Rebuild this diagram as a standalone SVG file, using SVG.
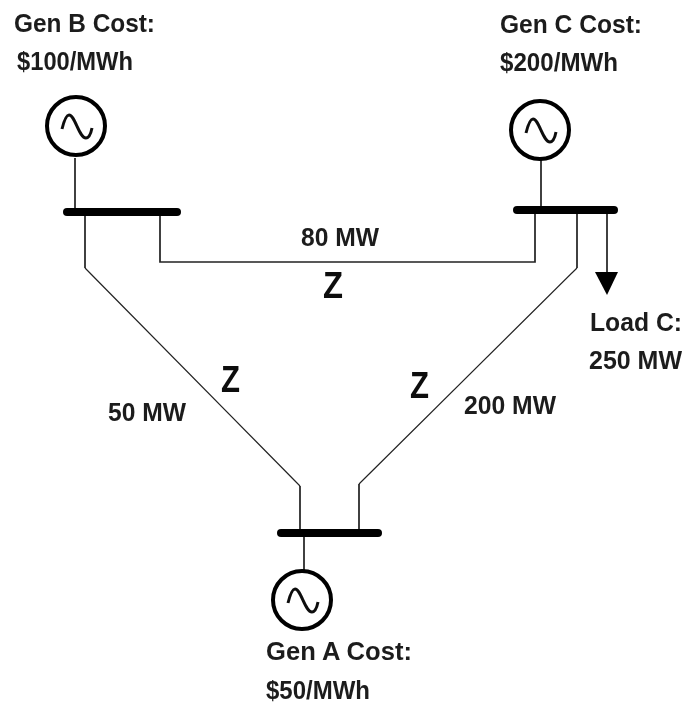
<svg xmlns="http://www.w3.org/2000/svg" width="684" height="704" viewBox="0 0 684 704">
<style>
text{font-family:"Liberation Sans",Arial,sans-serif;font-weight:700;font-size:25px;fill:#1c1c1c}
.z{font-size:37px;fill:#111}
.w{fill:none;stroke:#222;stroke-width:1.7}
.d{fill:none;stroke:#222;stroke-width:1.2}
.bus{fill:none;stroke:#000;stroke-width:8;stroke-linecap:round}
.gen{fill:#fff;stroke:#000;stroke-width:4}
.sine{fill:none;stroke:#111;stroke-width:3}
</style>
<defs>
<filter id="soft" x="-5%" y="-5%" width="110%" height="110%"><feGaussianBlur stdDeviation="0.4"/></filter>
<g id="g"><circle class="gen" r="29"/><path class="sine" d="M-14,3C-12,-5 -10,-11 -7,-11C-1,-11 3,12 10,12C13,12 15,7 16,2"/></g>
</defs>
<rect width="684" height="704" fill="#fff"/>
<g filter="url(#soft)">
<g id="connectors">
<path class="w" d="M75,158V212M85,212V268M160,212V262H535V210M577,210V268M300,486V532M359,484V532M541,158V210M304,532V570M607,210V274"/>
<path class="d" d="M85,268L300,486M577,268L359,484"/>
<path d="M595,272H618L607,295Z" fill="#000"/>
</g>
<g id="bus-b"><path class="bus" d="M67,212H177"/></g>
<g id="bus-c"><path class="bus" d="M517,210H614"/></g>
<g id="bus-a"><path class="bus" d="M281,533H378"/></g>
<g id="gen-b"><use href="#g" x="76" y="126"/><text x="14" y="32" textLength="141" lengthAdjust="spacingAndGlyphs">Gen B Cost:</text><text x="17" y="70" textLength="116" lengthAdjust="spacingAndGlyphs">$100/MWh</text></g>
<g id="gen-c"><use href="#g" x="540" y="130"/><text x="500" y="33" textLength="142" lengthAdjust="spacingAndGlyphs">Gen C Cost:</text><text x="500" y="71" textLength="118" lengthAdjust="spacingAndGlyphs">$200/MWh</text></g>
<g id="gen-a"><use href="#g" x="302" y="600"/><text x="266" y="660" textLength="146" lengthAdjust="spacingAndGlyphs">Gen A Cost:</text><text x="266" y="699" textLength="104" lengthAdjust="spacingAndGlyphs">$50/MWh</text></g>
<g id="load-c"><text x="590" y="331" textLength="92" lengthAdjust="spacingAndGlyphs">Load C:</text><text x="589" y="369" textLength="93" lengthAdjust="spacingAndGlyphs">250 MW</text></g>
<g id="labels">
<text x="301" y="246" textLength="78" lengthAdjust="spacingAndGlyphs">80 MW</text>
<text x="108" y="421" textLength="78" lengthAdjust="spacingAndGlyphs">50 MW</text>
<text x="464" y="414" textLength="92" lengthAdjust="spacingAndGlyphs">200 MW</text>
<text class="z" x="323" y="298" textLength="20" lengthAdjust="spacingAndGlyphs">Z</text>
<text class="z" x="221" y="392" textLength="19" lengthAdjust="spacingAndGlyphs">Z</text>
<text class="z" x="410" y="398" textLength="19" lengthAdjust="spacingAndGlyphs">Z</text>
</g>
</g>
</svg>
